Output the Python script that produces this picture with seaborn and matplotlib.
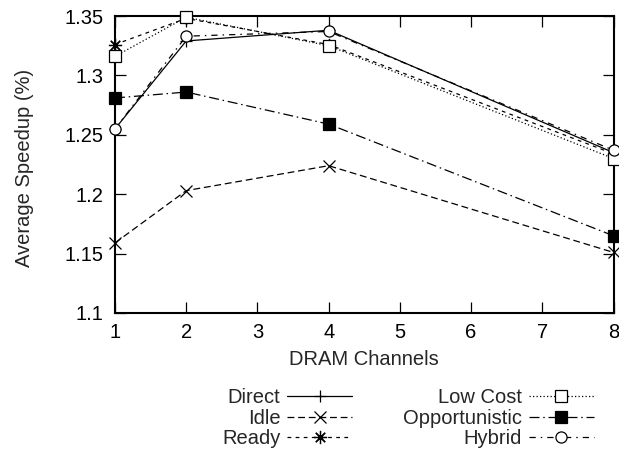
import matplotlib
matplotlib.use("Agg")
import matplotlib.pyplot as plt
import seaborn as sns
import pandas as pd
from matplotlib.ticker import FixedLocator, FixedFormatter

# Average speedup for each scheme across DRAM channel counts
channels = [1, 2, 4, 8]
direct = [1.255, 1.329, 1.338, 1.235]
idle = [1.159, 1.203, 1.224, 1.151]
ready = [1.326, 1.348, 1.326, 1.234]
low_cost = [1.316, 1.349, 1.325, 1.230]
opportunistic = [1.281, 1.286, 1.259, 1.165]
hybrid = [1.255, 1.333, 1.337, 1.237]

schemes = ["Direct", "Idle", "Ready", "Low Cost", "Opportunistic", "Hybrid"]
values = [direct, idle, ready, low_cost, opportunistic, hybrid]

y_ticks = [1.1, 1.15, 1.2, 1.25, 1.3, 1.35]
y_tick_labels = ["1.1", "1.15", "1.2", "1.25", "1.3", "1.35"]
x_ticks = [1, 2, 3, 4, 5, 6, 7, 8]

# line style per scheme: (marker, dash pattern, marker face, marker size)
styles = {
    "Direct": ("+", "-", "black", 9),
    "Idle": ("x", (0, (5.5, 3.0)), "black", 8),
    "Ready": ((8, 2, 0), (0, (3.0, 3.5)), "black", 9.5),
    "Low Cost": ("s", (0, (1.0, 1.8)), "white", 8),
    "Opportunistic": ("s", (0, (8.0, 3.0, 1.2, 3.0)), "black", 8),
    "Hybrid": ("o", (0, (5.0, 4.0, 1.2, 4.0)), "white", 8),
}

df = pd.DataFrame(
    [(s, c, v) for s, vals in zip(schemes, values) for c, v in zip(channels, vals)],
    columns=["scheme", "channels", "speedup"],
)

sns.set_theme(style="ticks")
plt.rcParams["font.family"] = ["Liberation Sans", "DejaVu Sans"]
FS = 14.5
plt.rcParams["font.size"] = FS

fig = plt.figure(figsize=(6.19, 4.5), dpi=100)
ax = fig.add_axes([115 / 619, 1 - 313 / 450, (613.5 - 115) / 619, (313 - 16) / 450])

for s in schemes:
    marker, ls, mfc, ms = styles[s]
    sub = df[df["scheme"] == s]
    sns.lineplot(
        data=sub, x="channels", y="speedup", ax=ax, color="black",
        linewidth=0.9, linestyle=ls, marker=marker, markersize=ms,
        markerfacecolor=mfc, markeredgecolor="black", markeredgewidth=0.9,
        label=s, clip_on=False, zorder=3,
    )

ax.set_xlim(1, 8)
ax.set_ylim(1.1, 1.35)
ax.xaxis.set_major_locator(FixedLocator(x_ticks))
ax.yaxis.set_major_locator(FixedLocator(y_ticks))
ax.yaxis.set_major_formatter(FixedFormatter(y_tick_labels))
ax.tick_params(axis="both", which="major", direction="in", length=8, width=0.9,
               top=True, right=True, labelsize=FS, colors="black")
ax.tick_params(axis="x", pad=7)
ax.tick_params(axis="y", pad=8.5)
for sp in ax.spines.values():
    sp.set_linewidth(1.5)
    sp.set_color("black")

ax.set_xlabel("DRAM Channels", fontsize=FS)
ax.set_ylabel("Average Speedup (%)", fontsize=FS)
ax.xaxis.set_label_coords(0.5, -0.125)
ax.yaxis.set_label_coords(-0.162, 0.49)

handles, labels = ax.get_legend_handles_labels()
ax.legend(
    handles, labels, ncol=2, markerfirst=False, frameon=False,
    loc="upper left", bbox_to_anchor=(222 / 619, 1 - 388 / 450),
    bbox_transform=fig.transFigure, borderpad=0, borderaxespad=0,
    handlelength=3.2, handletextpad=0.35, columnspacing=2.55,
    labelspacing=0.08, fontsize=FS, numpoints=1,
)

fig.savefig("out.png", dpi=100)
